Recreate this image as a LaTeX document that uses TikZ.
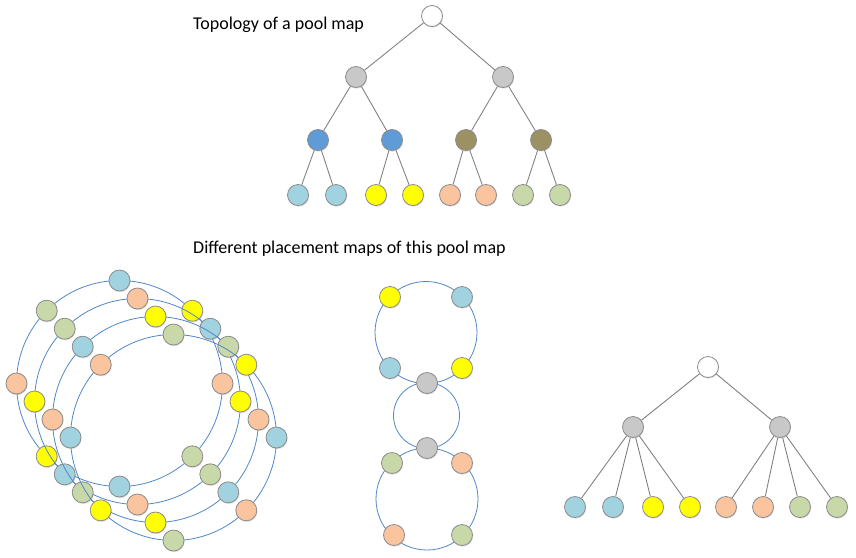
\documentclass[tikz,border=0pt]{standalone}
\usepackage{fontspec}
\setmainfont{Carlito}
\usetikzlibrary{shadows}
\definecolor{aquafill}{RGB}{160,210,224}
\definecolor{sunfill}{RGB}{255,255,0}
\definecolor{peachfill}{RGB}{250,196,158}
\definecolor{sagefill}{RGB}{201,216,168}
\definecolor{greyfill}{RGB}{200,200,200}
\definecolor{bluefill}{RGB}{95,155,215}
\definecolor{olivefill}{RGB}{155,145,98}
\definecolor{diskline}{RGB}{140,140,140}
\definecolor{linkgrey}{RGB}{130,130,130}
\definecolor{ringblue}{RGB}{80,135,200}

\begin{document}
\begin{tikzpicture}[x=1pt, y=-1pt,
    disk/.style={circle, draw=diskline, line width=0.8pt, minimum size=21pt, inner sep=0pt,
        drop shadow={shadow xshift=0.6pt, shadow yshift=-1.2pt, opacity=0.25}},
    blankdisk/.style={disk, fill=white},
    aquadisk/.style={disk, fill=aquafill},
    sundisk/.style={disk, fill=sunfill},
    peachdisk/.style={disk, fill=peachfill},
    sagedisk/.style={disk, fill=sagefill},
    greydisk/.style={disk, fill=greyfill},
    bluedisk/.style={disk, fill=bluefill},
    olivedisk/.style={disk, fill=olivefill},
    link/.style={draw=linkgrey, line width=0.9pt},
    ring/.style={draw=ringblue, line width=0.8pt},
    caption/.style={anchor=base west, inner sep=0pt, font=\fontsize{18}{21}\selectfont}]
        \useasboundingbox (0,0) rectangle (856,557);

        \node[caption] (topo) at (193,29.7) {Topology of a pool map};
        \node[caption] (maps) at (193,253) {Different placement maps of this pool map};

        \node[blankdisk] (root) at (432,16) {};
        \node[greydisk] (g1) at (356,77) {};
        \node[greydisk] (g2) at (503,77) {};
        \node[bluedisk] (h1) at (318,140) {};
        \node[bluedisk] (h2) at (392,140) {};
        \node[olivedisk] (h3) at (466,140) {};
        \node[olivedisk] (h4) at (541,140) {};
        \node[aquadisk] (l1) at (298,195) {};
        \node[aquadisk] (l2) at (336,195) {};
        \node[sundisk] (l3) at (376,195) {};
        \node[sundisk] (l4) at (413,195) {};
        \node[peachdisk] (l5) at (450,195) {};
        \node[peachdisk] (l6) at (486,195) {};
        \node[sagedisk] (l7) at (523,195) {};
        \node[sagedisk] (l8) at (560,195) {};

        \path[link] (root) -- (g1);
        \path[link] (root) -- (g2);
        \path[link] (g1) -- (h1);
        \path[link] (g1) -- (h2);
        \path[link] (g2) -- (h3);
        \path[link] (g2) -- (h4);
        \path[link] (h1) -- (l1);
        \path[link] (h1) -- (l2);
        \path[link] (h2) -- (l3);
        \path[link] (h2) -- (l4);
        \path[link] (h3) -- (l5);
        \path[link] (h3) -- (l6);
        \path[link] (h4) -- (l7);
        \path[link] (h4) -- (l8);

        \coordinate (o1) at (119.5,383.5);
        \coordinate (o2) at (137.5,401.5);
        \coordinate (o3) at (155.5,419.5);
        \coordinate (o4) at (173.5,437.5);

        \path[ring] (o1) circle (103pt);
        \node[aquadisk] (p11) at (119.5,280.5) {};
        \node[sundisk] (p12) at (192.3,310.7) {};
        \node[peachdisk] (p13) at (222.5,383.5) {};
        \node[sagedisk] (p14) at (192.3,456.3) {};
        \node[aquadisk] (p15) at (119.5,486.5) {};
        \node[sundisk] (p16) at (46.7,456.3) {};
        \node[peachdisk] (p17) at (16.5,383.5) {};
        \node[sagedisk] (p18) at (46.7,310.7) {};

        \path[ring] (o2) circle (103pt);
        \node[peachdisk] (p21) at (137.5,298.5) {};
        \node[aquadisk] (p22) at (210.3,328.7) {};
        \node[sundisk] (p23) at (240.5,401.5) {};
        \node[sagedisk] (p24) at (210.3,474.3) {};
        \node[peachdisk] (p25) at (137.5,504.5) {};
        \node[aquadisk] (p26) at (64.7,474.3) {};
        \node[sundisk] (p27) at (34.5,401.5) {};
        \node[sagedisk] (p28) at (64.7,328.7) {};

        \path[ring] (o3) circle (103pt);
        \node[sundisk] (p31) at (155.5,316.5) {};
        \node[sagedisk] (p32) at (228.3,346.7) {};
        \node[peachdisk] (p33) at (258.5,419.5) {};
        \node[aquadisk] (p34) at (228.3,492.3) {};
        \node[sundisk] (p35) at (155.5,522.5) {};
        \node[sagedisk] (p36) at (82.7,492.3) {};
        \node[peachdisk] (p37) at (52.5,419.5) {};
        \node[aquadisk] (p38) at (82.7,346.7) {};

        \path[ring] (o4) circle (103pt);
        \node[sagedisk] (p41) at (173.5,334.5) {};
        \node[sundisk] (p42) at (246.3,364.7) {};
        \node[aquadisk] (p43) at (276.5,437.5) {};
        \node[peachdisk] (p44) at (246.3,510.3) {};
        \node[sagedisk] (p45) at (173.5,540.5) {};
        \node[sundisk] (p46) at (100.7,510.3) {};
        \node[aquadisk] (p47) at (70.5,437.5) {};
        \node[peachdisk] (p48) at (100.7,364.7) {};

        \coordinate (ctop) at (426,332.5);
        \coordinate (cmid) at (426.5,415.5);
        \coordinate (cbot) at (427,499);

        \path[ring] (ctop) circle (51pt);
        \path[ring] (cmid) circle (33pt);
        \path[ring] (cbot) circle (51pt);
        \node[sundisk] (m1) at (390,297) {};
        \node[aquadisk] (m2) at (462,297) {};
        \node[aquadisk] (m3) at (390,368) {};
        \node[sundisk] (m4) at (462,368) {};
        \node[greydisk] (mg1) at (427,383) {};
        \node[greydisk] (mg2) at (427,448) {};
        \node[sagedisk] (m5) at (392,463) {};
        \node[peachdisk] (m6) at (462,463) {};
        \node[peachdisk] (m7) at (394,535) {};
        \node[sagedisk] (m8) at (462,535) {};

        \node[blankdisk] (rroot) at (708,367) {};
        \node[greydisk] (rg1) at (633,427) {};
        \node[greydisk] (rg2) at (780,427) {};
        \node[aquadisk] (rl1) at (575,507) {};
        \node[aquadisk] (rl2) at (613,507) {};
        \node[sundisk] (rl3) at (653,507) {};
        \node[sundisk] (rl4) at (690,507) {};
        \node[peachdisk] (rl5) at (726,507) {};
        \node[peachdisk] (rl6) at (763,507) {};
        \node[sagedisk] (rl7) at (800,507) {};
        \node[sagedisk] (rl8) at (837,507) {};

        \path[link] (rroot) -- (rg1);
        \path[link] (rroot) -- (rg2);
        \path[link] (rg1) -- (rl1);
        \path[link] (rg1) -- (rl2);
        \path[link] (rg1) -- (rl3);
        \path[link] (rg1) -- (rl4);
        \path[link] (rg2) -- (rl5);
        \path[link] (rg2) -- (rl6);
        \path[link] (rg2) -- (rl7);
        \path[link] (rg2) -- (rl8);
    \end{tikzpicture}
\end{document}
